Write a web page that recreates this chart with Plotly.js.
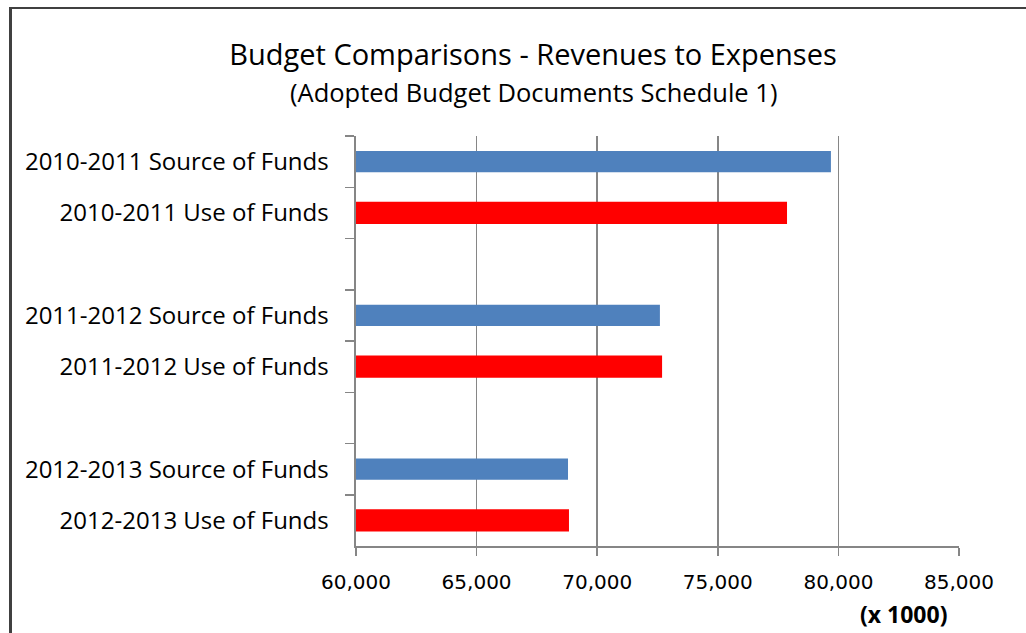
<!DOCTYPE html>
<html>
<head>
<meta charset="utf-8">
<script src="https://cdn.plot.ly/plotly-3.0.1.min.js"></script>
<style>
  html, body { margin: 0; padding: 0; background: #fff; }
  #wrap { position: relative; width: 1026px; height: 633px; }
  #chart { width: 1026px; height: 633px; }
  #frameL { position: absolute; left: 9px; top: 7px; width: 3px; height: 626px; background: #404040; }
  #frameT { position: absolute; left: 9px; top: 7px; width: 1017px; height: 2px; background: #404040; }
</style>
</head>
<body>
<div id="wrap">
  <div id="chart"></div>
  <div id="frameL"></div>
  <div id="frameT"></div>
</div>
<script>
// Categories in display order (blank slots separate the years)
const categories = [
  "2010-2011 Source of Funds", "2010-2011 Use of Funds", " ",
  "2011-2012 Source of Funds", "2011-2012 Use of Funds", "  ",
  "2012-2013 Source of Funds", "2012-2013 Use of Funds"
];
const sourceLabels = ["2010-2011 Source of Funds", "2011-2012 Source of Funds", "2012-2013 Source of Funds"];
const sourceValues = [79690, 72600, 68790];
const useLabels = ["2010-2011 Use of Funds", "2011-2012 Use of Funds", "2012-2013 Use of Funds"];
const useValues = [77870, 72690, 68830];
const xTickVals = [60000, 65000, 70000, 75000, 80000, 85000];

const gridCol = "#868686";

const traces = [
  {
    type: "bar", orientation: "h",
    y: sourceLabels, x: sourceValues,
    marker: { color: "#4F81BD" },
    width: 0.41, hoverinfo: "x+y", showlegend: false
  },
  {
    type: "bar", orientation: "h",
    y: useLabels, x: useValues,
    marker: { color: "#FF0000" },
    width: 0.43, hoverinfo: "x+y", showlegend: false
  }
];

const layout = {
  width: 1026, height: 633,
  margin: { l: 356, r: 67, t: 136, b: 87, pad: 0 },
  paper_bgcolor: "#ffffff", plot_bgcolor: "#ffffff",
  barmode: "overlay",
  showlegend: false,
  title: {
    text: "Budget Comparisons - Revenues to Expenses",
    font: { family: "Open Sans, sans-serif", size: 29, color: "#000" },
    xref: "container", x: 533 / 1026, xanchor: "center",
    yref: "container", y: 1 - 55 / 633, yanchor: "middle"
  },
  xaxis: {
    range: [60000, 85000],
    tickvals: xTickVals,
    tickformat: ",d",
    showgrid: true, gridcolor: gridCol, gridwidth: 1.5,
    showline: true, linecolor: gridCol, linewidth: 2,
    ticks: "outside", ticklen: 8, tickwidth: 1.5, tickcolor: gridCol,
    zeroline: false,
    tickfont: { family: "DejaVu Sans, sans-serif", size: 20, color: "#000" },
    ticklabelstandoff: 9,
    fixedrange: true
  },
  yaxis: {
    type: "category",
    categoryorder: "array",
    categoryarray: categories,
    range: [7.5, -0.5],
    tickson: "boundaries",
    ticks: "outside", ticklen: 9, tickwidth: 1.5, tickcolor: gridCol,
    showline: true, linecolor: gridCol, linewidth: 2.5,
    showgrid: false, zeroline: false,
    tickfont: { family: "Open Sans, sans-serif", size: 24, color: "#000" },
    ticklabelstandoff: 20,
    fixedrange: true
  },
  annotations: [
    {
      text: "(Adopted Budget Documents Schedule 1)",
      xref: "paper", yref: "paper",
      x: (533 - 356) / 603, y: (546 - 92) / 410,
      xanchor: "center", yanchor: "middle",
      showarrow: false,
      font: { family: "Open Sans, sans-serif", size: 25.5, color: "#000" }
    },
    {
      text: "<b>(x 1000)</b>",
      xref: "paper", yref: "paper",
      x: (903 - 356) / 603, y: (546 - 614) / 410,
      xanchor: "center", yanchor: "middle",
      showarrow: false,
      font: { family: "Open Sans, sans-serif", size: 23, color: "#000" }
    }
  ]
};

Plotly.newPlot("chart", traces, layout, { displayModeBar: false, staticPlot: true });
</script>
</body>
</html>
